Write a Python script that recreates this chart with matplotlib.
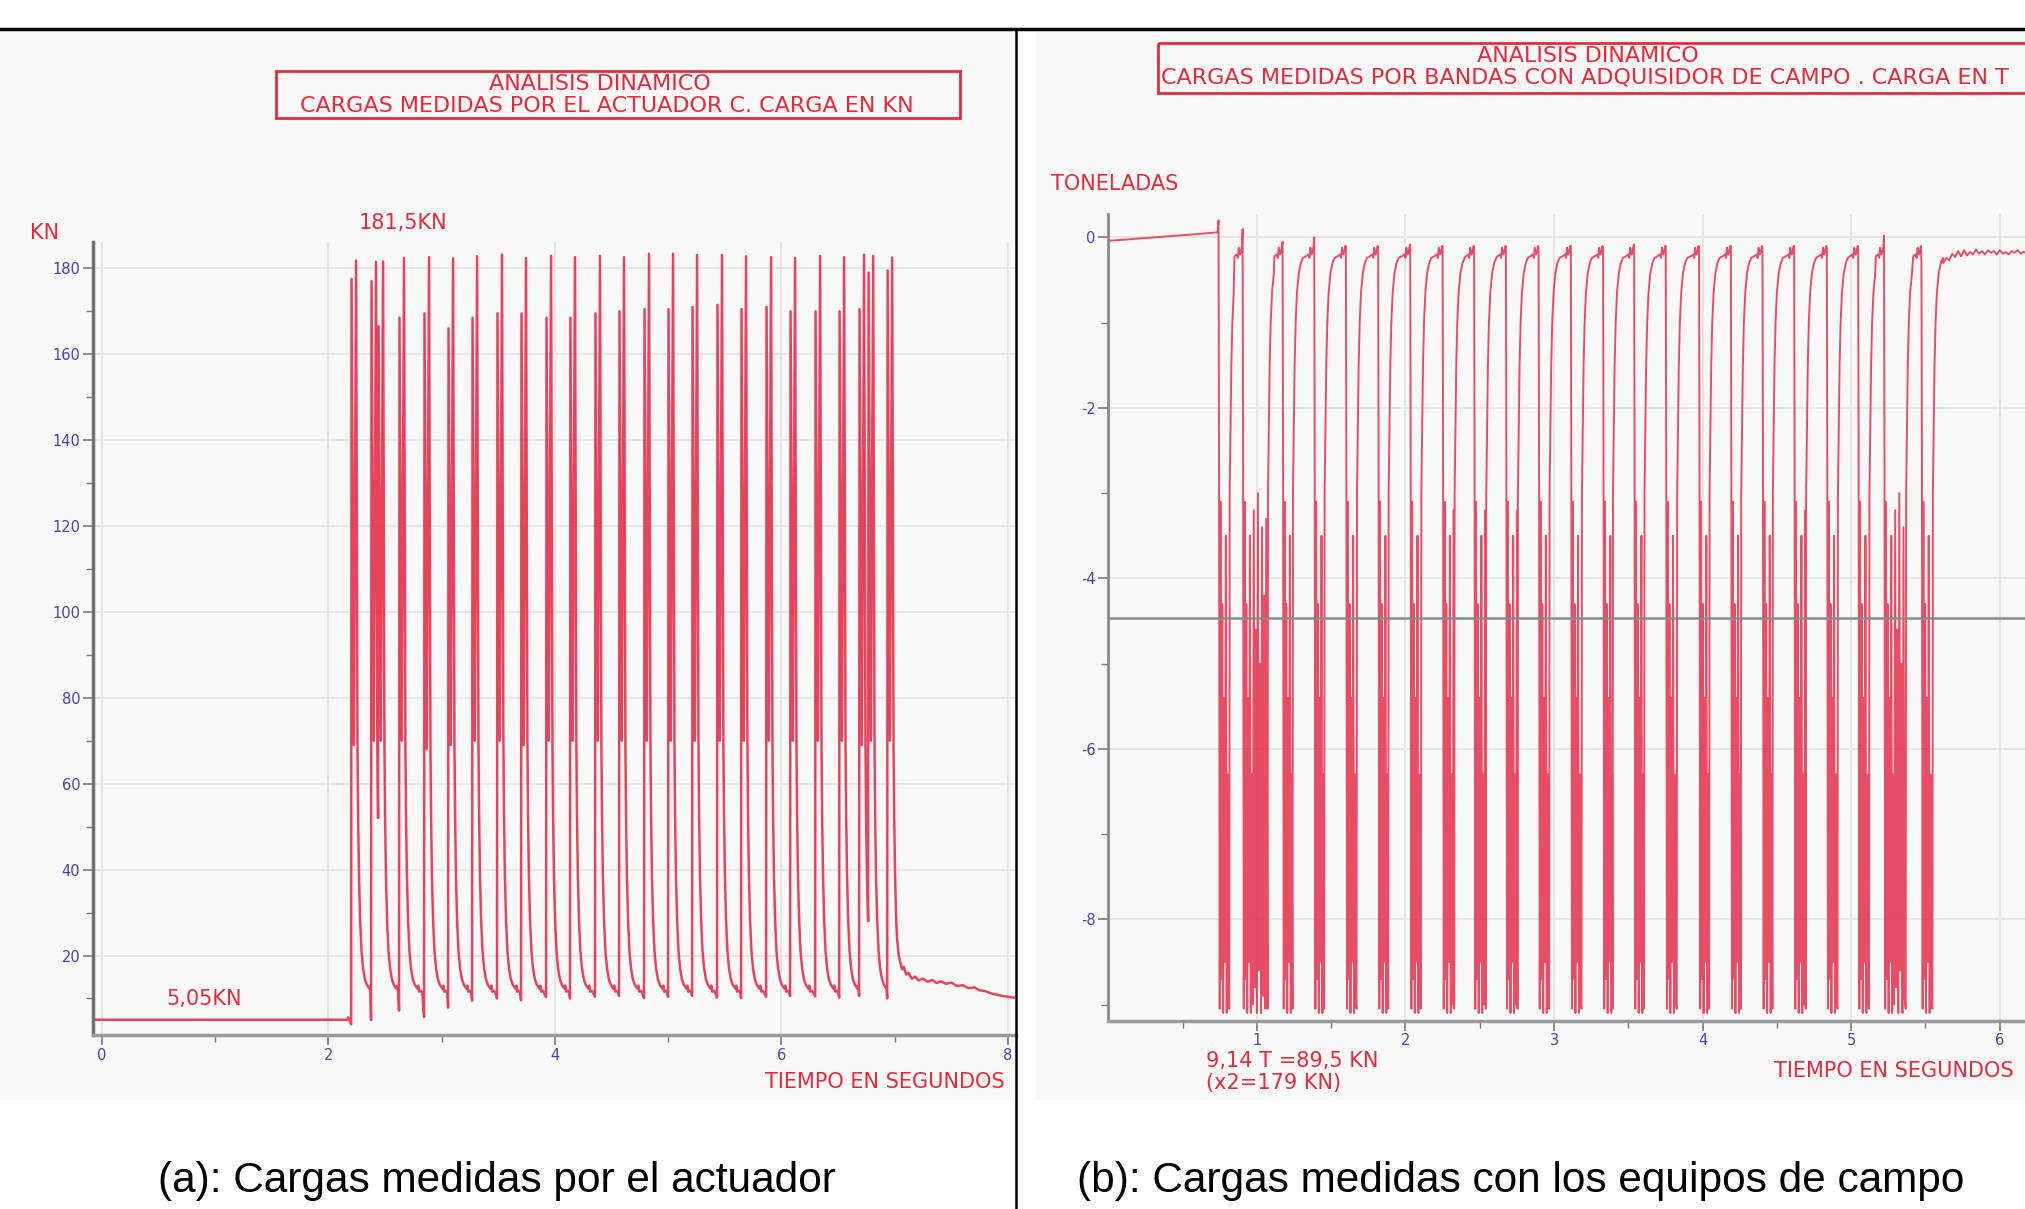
import matplotlib
matplotlib.use('Agg')
import matplotlib.pyplot as plt
import matplotlib.patches as patches

plt.rcParams['axes.unicode_minus'] = False
plt.rcParams['font.family'] = ['DejaVu Sans']

# colours
c_sig = '#e4304c'
c_red = '#e62a3a'
c_tick = '#4b3fb8'
c_grid = '#e4e4e4'
c_panel = '#f8f8f8'

# ---------------- panel (a): actuator, KN ----------------
a_base_t = [-0.08, 2.170, 2.174]
a_base_v = [5.05, 5.05, 5.6]
a_peak_t = [2.245, 2.421, 2.483, 2.668, 2.889, 3.101, 3.313, 3.533, 3.745, 3.966,
            4.177, 4.398, 4.610, 4.831, 5.043, 5.255, 5.475, 5.687, 5.908, 6.120,
            6.341, 6.553, 6.729, 6.809, 6.977]
a_peak_v = [181.8, 181.5, 181.6, 182.4, 182.6, 182.3, 182.8, 183.2, 182.4, 182.9,
            182.6, 182.9, 182.6, 183.4, 183.4, 183.1, 183.1, 182.8, 182.6, 182.4,
            182.9, 182.6, 183.2, 182.9, 182.5]
a_pre_v = [177.5, 177.0, 166.5, 168.5, 169.5, 166.0, 168.5, 169.5, 169.5, 168.5,
           168.5, 169.5, 170.0, 170.5, 170.5, 171.0, 171.5, 170.5, 171.0, 170.0,
           170.0, 170.0, 170.5, 179.0, 179.5]
a_knee_v = [69, 70, 70, 70, 68, 69, 70, 70, 69, 70, 70, 70, 70, 70, 70, 70, 70,
            70, 70, 70, 70, 70, 69, 70, 70]
a_trough_v = [4.0, 5.0, 58.0, 7.2, 5.7, 7.9, 9.5, 10.0, 9.6, 10.3, 10.0, 10.4,
              10.6, 10.1, 10.4, 10.6, 10.2, 10.1, 10.4, 10.6, 10.5, 10.2, 10.6,
              62.0, 10.0]
# shape of one load cycle around its peak
a_rise_dt = [-0.044, -0.040, -0.020, 0.0]
a_dec_dt = [0.012, 0.018, 0.026, 0.036, 0.048, 0.062, 0.078, 0.095, 0.110,
            0.118, 0.126, 0.134, 0.150, 0.162]
a_dec_v = [70.0, 52.0, 38.0, 28.0, 21.0, 17.0, 14.5, 13.2, 12.6, 12.3, 13.0,
           11.6, 11.8, 11.2]
a_tail_t = [7.02, 7.035, 7.05, 7.065, 7.08, 7.10, 7.12, 7.15, 7.18, 7.21, 7.25,
            7.29, 7.33, 7.37, 7.41, 7.45, 7.50, 7.55, 7.60, 7.65, 7.70, 7.75,
            7.80, 7.85, 7.90, 7.95, 8.00, 8.05]
a_tail_v = [24.0, 20.0, 18.2, 16.8, 17.4, 15.6, 16.0, 14.6, 15.1, 14.2, 14.6,
            13.9, 14.3, 13.6, 14.0, 13.4, 13.7, 12.9, 13.1, 12.4, 12.6, 11.9,
            11.7, 11.2, 10.9, 10.6, 10.4, 10.2]

# ---------------- panel (b): field equipment, T ----------------
b_base_t = [0.0, 0.15, 0.30, 0.45, 0.60, 0.735]
b_base_v = [-0.04, -0.02, 0.0, 0.02, 0.04, 0.06]
b_drop_t = [0.742, 0.904, 1.173, 1.386, 1.599, 1.816, 2.032, 2.250, 2.462, 2.676,
            2.896, 3.113, 3.330, 3.539, 3.752, 3.976, 4.190, 4.403, 4.616, 4.836,
            5.047, 5.221, 5.473]
b_top_v = [0.2, 0.1, -0.05, 0.0, -0.1, -0.12, -0.08, -0.1, -0.12, -0.1, -0.12,
           -0.1, -0.12, -0.08, -0.1, -0.12, -0.1, -0.12, -0.1, -0.12, -0.1, 0.02,
           -0.3]
b_rise_t = [0.814, 1.072, 1.240, 1.453, 1.671, 1.884, 2.104, 2.328, 2.541, 2.754,
            2.967, 3.185, 3.394, 3.606, 3.826, 4.044, 4.257, 4.470, 4.694, 4.908,
            5.120, 5.367, 5.547]
b_osc_dt = [0.003, 0.008, 0.013, 0.019, 0.025, 0.031, 0.037, 0.043, 0.049, 0.055,
            0.061, 0.068, 0.075, 0.082, 0.089, 0.096, 0.103, 0.110, 0.117, 0.124,
            0.131, 0.138, 0.145, 0.152, 0.159]
b_osc_v = [-2.4, -9.05, -3.1, -8.7, -4.3, -9.1, -5.4, -8.5, -3.5, -9.1, -6.3,
           -9.0, -3.2, -8.8, -4.6, -9.1, -3.0, -8.6, -5.0, -9.1, -3.4, -8.9, -4.2,
           -9.05, -3.3]
b_rec_dt = [0.0, 0.003, 0.008, 0.014, 0.021, 0.030, 0.042, 0.056, 0.070]
b_rec_v = [-9.05, -3.0, -2.3, -1.5, -1.0, -0.65, -0.42, -0.3, -0.24]
b_flag_dt = [-0.055, -0.040, -0.032, -0.026, -0.018, -0.010, -0.004]
b_flag_v = [-0.22, -0.20, -0.24, -0.12, -0.20, -0.16, -0.10]
b_tail_t = [5.62, 5.64, 5.66, 5.68, 5.70, 5.72, 5.74, 5.76, 5.78, 5.80, 5.82,
            5.84, 5.86, 5.88, 5.90, 5.92, 5.94, 5.96, 5.98, 6.00, 6.02, 6.04,
            6.06, 6.08, 6.10, 6.12, 6.14, 6.16, 6.18]
b_tail_v = [-0.30, -0.24, -0.27, -0.19, -0.23, -0.16, -0.22, -0.15, -0.21, -0.17,
            -0.20, -0.14, -0.19, -0.16, -0.20, -0.15, -0.18, -0.16, -0.20, -0.15,
            -0.19, -0.17, -0.20, -0.16, -0.18, -0.15, -0.19, -0.17, -0.18]
b_ref_line = -4.46


def series_a():
    t, v = list(a_base_t), list(a_base_v)
    ends = [p + a_rise_dt[0] for p in a_peak_t[1:]] + [a_tail_t[0]]
    for i, tp in enumerate(a_peak_t):
        vals = [a_trough_v[i], a_pre_v[i], a_knee_v[i], a_peak_v[i]]
        for dt, val in zip(a_rise_dt, vals):
            t.append(tp + dt)
            v.append(val)
        for dt, val in zip(a_dec_dt, a_dec_v):
            if tp + dt < ends[i]:
                t.append(tp + dt)
                v.append(val)
    return t + a_tail_t, v + a_tail_v


def series_b():
    t, v = list(b_base_t), list(b_base_v)
    n = len(b_drop_t)
    for i in range(n):
        d, r = b_drop_t[i], b_rise_t[i]
        t.append(d)
        v.append(b_top_v[i])
        for dt, val in zip(b_osc_dt, b_osc_v):
            if d + dt < r - 0.002:
                t.append(d + dt)
                v.append(val)
        last = i + 1 == n
        nxt = b_tail_t[0] if last else b_drop_t[i + 1]
        lim = nxt if last else nxt + b_flag_dt[0]
        for dt, val in zip(b_rec_dt, b_rec_v):
            if r + dt < lim:
                t.append(r + dt)
                v.append(val)
        if not last:
            for dt, val in zip(b_flag_dt, b_flag_v):
                if nxt + dt > t[-1]:
                    t.append(nxt + dt)
                    v.append(val)
    return t + b_tail_t, v + b_tail_v


W, H = 2025, 1209
fig = plt.figure(figsize=(W / 100, H / 100), dpi=100)
fig.patch.set_facecolor('white')


def fig_rect(x0, y0, x1, y1):
    # pixel box (top-left origin) -> figure fraction rect
    return [x0 / W, 1 - y1 / H, (x1 - x0) / W, (y1 - y0) / H]


# panel backgrounds
bg = fig.add_axes([0, 0, 1, 1])
bg.set_xlim(0, W)
bg.set_ylim(H, 0)
bg.axis('off')
bg.add_patch(patches.Rectangle((0, 32), 1013, 1068, facecolor=c_panel, edgecolor='none'))
bg.add_patch(patches.Rectangle((1036, 32), 989, 1068, facecolor=c_panel, edgecolor='none'))


def style_axes(ax):
    ax.set_facecolor('none')
    for s in ['top', 'right']:
        ax.spines[s].set_visible(False)
    ax.spines['left'].set_color('#707070')
    ax.spines['left'].set_linewidth(2.5)
    ax.spines['bottom'].set_color('#9a9a9a')
    ax.spines['bottom'].set_linewidth(2.5)
    ax.grid(True, which='major', color=c_grid, linewidth=1.3)
    ax.set_axisbelow(True)
    ax.tick_params(which='major', direction='out', length=7, width=1.2,
                   color='#777777', labelcolor=c_tick, labelsize=10.5, pad=2)
    ax.tick_params(which='minor', direction='out', length=5, width=1.0,
                   color='#777777')


# ---- chart (a)
ax_a = fig.add_axes(fig_rect(92.7, 242.5, 1016, 1035))
ta, va = series_a()
ax_a.plot(ta, va, color=c_sig, linewidth=1.8, alpha=0.9)
ax_a.set_xlim(-0.08, 8.07)
ax_a.set_ylim(1.5, 186)
ax_a.set_yticks(range(20, 181, 20))
ax_a.set_yticks(range(10, 180, 20), minor=True)
ax_a.set_xticks(range(0, 9, 2))
ax_a.set_xticks([1, 3, 5, 7], minor=True)
style_axes(ax_a)

# ---- chart (b)
ax_b = fig.add_axes(fig_rect(1108.3, 213.6, W, 1020.7))
tb, vb = series_b()
ax_b.plot(tb, vb, color=c_sig, linewidth=1.4, alpha=0.85)
ax_b.axhline(b_ref_line, color='#8a8a8a', linewidth=1.8, zorder=3)
ax_b.set_xlim(0, 6.17)
ax_b.set_ylim(-9.19, 0.28)
ax_b.set_yticks([0, -2, -4, -6, -8])
ax_b.set_yticks([-1, -3, -5, -7, -9], minor=True)
ax_b.set_xticks(range(1, 7))
ax_b.set_xticks([0.5, 1.5, 2.5, 3.5, 4.5, 5.5], minor=True)
style_axes(ax_b)
ax_b.spines['left'].set_color('#8a8a8a')
ax_b.spines['left'].set_linewidth(2)

# ---- overlays (pixel coordinates), one per half so text is cut at the divider
ov_a = fig.add_axes(fig_rect(0, 0, 1016, H))
ov_a.set_xlim(0, 1016)
ov_a.set_ylim(H, 0)
ov_a.axis('off')
ov_b = fig.add_axes(fig_rect(1016, 0, W, H))
ov_b.set_xlim(1016, W)
ov_b.set_ylim(H, 0)
ov_b.axis('off')

red_kw = dict(color=c_red, fontsize=15, clip_on=True)
box_kw = dict(color=c_red, fontsize=16, clip_on=True)

# title box (a)
ov_a.add_patch(patches.Rectangle((276, 71), 684, 47, fill=False, edgecolor=c_red, linewidth=2))
ov_a.text(600, 84, 'ANÁLISIS DINÁMICO', ha='center', va='center', **box_kw)
ov_a.text(607, 106, 'CARGAS MEDIDAS POR EL ACTUADOR C. CARGA EN KN', ha='center', va='center', **box_kw)
ov_a.text(30, 233, 'KN', ha='left', va='center', **red_kw)
ov_a.text(403, 223, '181,5KN', ha='center', va='center', **red_kw)
ov_a.text(204, 999, '5,05KN', ha='center', va='center', **red_kw)
ov_a.text(765, 1082, 'TIEMPO EN SEGUNDOS', ha='left', va='center', **red_kw)

# title box (b)
ov_b.add_patch(patches.Rectangle((1158, 43), 1000, 50, fill=False, edgecolor=c_red, linewidth=2))
ov_b.text(1588, 56, 'ANÁLISIS DINÁMICO', ha='center', va='center', **box_kw)
ov_b.text(1161, 78, 'CARGAS MEDIDAS POR BANDAS CON ADQUISIDOR DE CAMPO . CARGA EN T',
          ha='left', va='center', **box_kw)
ov_b.text(1051, 184, 'TONELADAS', ha='left', va='center', **red_kw)
ov_b.text(1206, 1061, '9,14 T =89,5 KN', ha='left', va='center', **red_kw)
ov_b.text(1206, 1083, '(x2=179 KN)', ha='left', va='center', **red_kw)
ov_b.text(2014, 1071, 'TIEMPO EN SEGUNDOS', ha='right', va='center', **red_kw)

# frame lines and captions
ov = fig.add_axes([0, 0, 1, 1])
ov.set_xlim(0, W)
ov.set_ylim(H, 0)
ov.axis('off')
ov.plot([0, W], [29, 29], color='black', linewidth=2.5)
ov.plot([1016, 1016], [29, H], color='black', linewidth=1.8)
cap_kw = dict(ha='center', va='center', fontsize=30.5, color='black', family=['Liberation Sans', 'DejaVu Sans'])
ov.text(497, 1181, '(a): Cargas medidas por el actuador', **cap_kw)
ov.text(1521, 1181, '(b): Cargas medidas con los equipos de campo', **cap_kw)

fig.savefig('out.png', dpi=100, facecolor='white')
